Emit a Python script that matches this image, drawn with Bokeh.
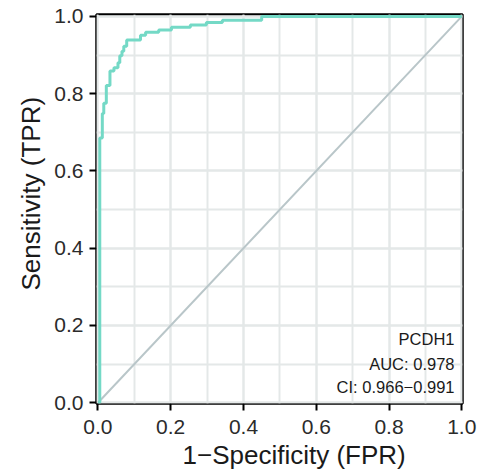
from bokeh.plotting import figure
from bokeh.models import Label, SingleIntervalTicker, Range1d, Title, CustomJSTickFormatter
from bokeh.embed import file_html
from bokeh.resources import INLINE

# ROC curve vertices (FPR, TPR)
fpr = [0.0, 0.005, 0.005, 0.012, 0.012, 0.016, 0.016, 0.023, 0.023, 0.033, 0.033,
       0.044, 0.044, 0.055, 0.055, 0.060, 0.060, 0.066, 0.066, 0.071, 0.071,
       0.079, 0.079, 0.117, 0.117, 0.131, 0.131, 0.167, 0.167, 0.202, 0.202,
       0.254, 0.254, 0.298, 0.298, 0.342, 0.342, 0.45, 0.45, 1.0]
tpr = [0.0, 0.0, 0.685, 0.685, 0.749, 0.749, 0.775, 0.775, 0.821, 0.821, 0.859,
       0.859, 0.867, 0.867, 0.880, 0.880, 0.898, 0.898, 0.910, 0.910, 0.923,
       0.923, 0.939, 0.939, 0.951, 0.951, 0.959, 0.959, 0.965, 0.965, 0.972,
       0.972, 0.978, 0.978, 0.984, 0.984, 0.990, 0.990, 1.0, 1.0]
diag_x = [0.0, 1.0]
diag_y = [0.0, 1.0]

marker_name = "PCDH1"
auc_text = "AUC: 0.978"
ci_text = "CI: 0.966\u22120.991"
x_title = "1\u2212Specificity (FPR)"
y_title = "Sensitivity (TPR)"

W, H = 480, 470
p = figure(width=W, height=H, output_backend="svg", toolbar_location=None,
           x_range=Range1d(-0.004, 1.002), y_range=Range1d(-0.002, 1.005),
           min_border_left=96, min_border_right=W - 462,
           min_border_top=14, min_border_bottom=H - 406)
p.background_fill_color = "white"
p.border_fill_color = "white"
p.outline_line_color = "black"
p.outline_line_width = 2.5

fmt = CustomJSTickFormatter(code="return tick.toFixed(1);")
for ax in (p.xaxis[0], p.yaxis[0]):
    ax.ticker = SingleIntervalTicker(interval=0.2, num_minor_ticks=2)
    ax.formatter = fmt
    ax.axis_line_color = None
    ax.major_tick_in = 0
    ax.major_tick_out = 7
    ax.major_tick_line_width = 2
    ax.major_tick_line_color = "black"
    ax.minor_tick_line_color = None
    ax.major_label_text_font = "Liberation Sans"
    ax.major_label_text_font_size = "21px"
    ax.major_label_text_color = "#2b2b2b"
p.xaxis[0].major_label_standoff = 9
p.yaxis[0].major_label_standoff = 6

for g in (p.xgrid[0], p.ygrid[0]):
    g.grid_line_color = "#e4e8e8"
    g.grid_line_width = 2
    g.minor_grid_line_color = "#e4e8e8"
    g.minor_grid_line_width = 2

p.line(diag_x, diag_y, line_color="#b9c6c9", line_width=2)
p.line(fpr, tpr, line_color="#74d9c6", line_width=3)

for txt, yy in ((marker_name, 0.164), (auc_text, 0.100), (ci_text, 0.041)):
    p.add_layout(Label(x=0.98, y=yy, text=txt, text_align="right",
                       text_baseline="middle", text_font="Liberation Sans",
                       text_font_size="16.5px", text_color="#1a1a1a"))

p.add_layout(Title(text=x_title, align="left", offset=86, standoff=2,
                   text_font="Liberation Sans", text_font_size="26px",
                   text_font_style="normal", text_color="#1a1a1a"), "below")
p.add_layout(Title(text=y_title, align="left", offset=113, standoff=12,
                   text_font="Liberation Sans", text_font_size="26px",
                   text_font_style="normal", text_color="#1a1a1a"), "left")

open("out.html", "w").write(file_html(p, INLINE))
